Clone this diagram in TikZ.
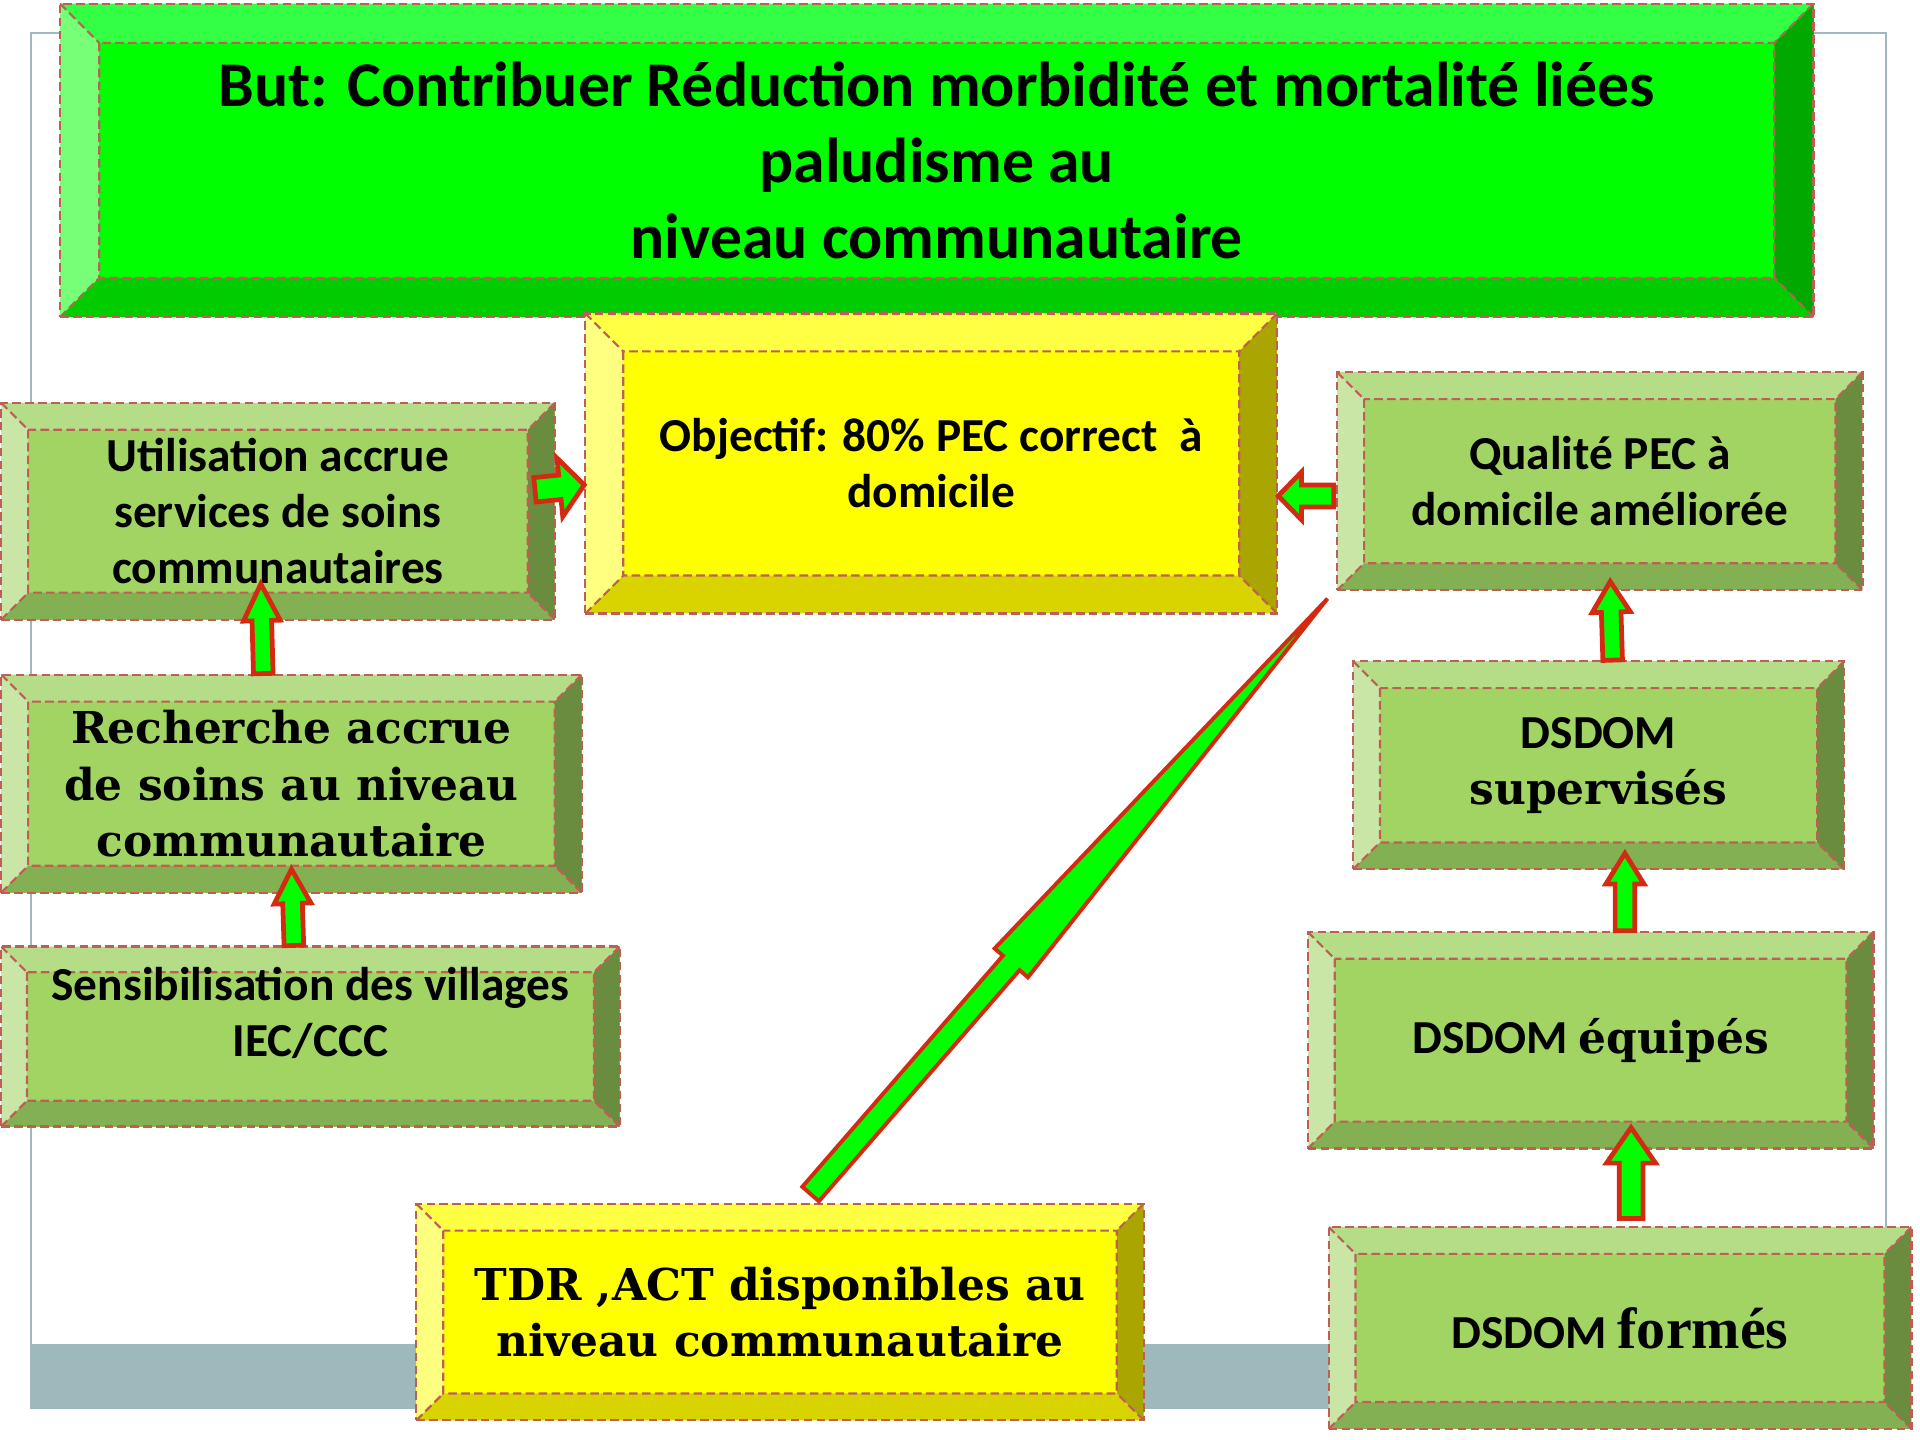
\documentclass[tikz,border=0pt]{standalone}
\usepackage{fontspec}
\setmainfont{Carlito}
\newfontfamily\bookfont{DejaVu Serif}
\newfontfamily\timesfont{Liberation Serif}
\usetikzlibrary{calc}
\definecolor{dashred}{HTML}{BE5F55}
\definecolor{arrowred}{HTML}{D42A12}
\definecolor{framegray}{HTML}{9DB9BC}
\definecolor{arrowgreen}{HTML}{00FF00}
\definecolor{gtop}{HTML}{33FF44}
\definecolor{gleft}{HTML}{77FF77}
\definecolor{gface}{HTML}{00FF00}
\definecolor{gright}{HTML}{00A800}
\definecolor{gbot}{HTML}{00CC00}
\definecolor{ytop}{HTML}{FFFF44}
\definecolor{yleft}{HTML}{FFFF80}
\definecolor{yface}{HTML}{FFFF00}
\definecolor{yright}{HTML}{AAA500}
\definecolor{ybot}{HTML}{D9D400}
\definecolor{otop}{HTML}{B5DD88}
\definecolor{oleft}{HTML}{C9E6A7}
\definecolor{oface}{HTML}{A2D463}
\definecolor{oright}{HTML}{6A8C3E}
\definecolor{obot}{HTML}{84B054}
\newcommand\bk{\bookfont\fontsize{10.2}{13.2}\selectfont}
\newcommand\blockarrow[6][]{%
  \draw[blockarrow,#1] let \p1=#2, \p2=#3,
      \n1={atan2(\y2-\y1,\x2-\x1)}, \n2={veclen(\x2-\x1,\y2-\y1)} in
    ($(\p1)+(\n1+90:#4)$) -- ($(\p1)+(\n1:\n2-#6)+(\n1+90:#4)$)
    -- ($(\p1)+(\n1:\n2-#6)+(\n1+90:#5)$) -- (\p2)
    -- ($(\p1)+(\n1:\n2-#6)+(\n1-90:#5)$) -- ($(\p1)+(\n1:\n2-#6)+(\n1-90:#4)$)
    -- ($(\p1)+(\n1-90:#4)$) -- cycle;}
\tikzset{
  bevelwidth/.store in=\bvw, bevelwidth=0.22cm,
  bevelbox/.style n args={5}{rectangle, inner sep=0pt, align=center,
    draw=dashred, line width=0.5pt, dash pattern=on 2pt off 1pt, fill=#3,
    path picture={
      \path (path picture bounding box.north west) coordinate (bnw)
        (path picture bounding box.north east) coordinate (bne)
        (path picture bounding box.south east) coordinate (bse)
        (path picture bounding box.south west) coordinate (bsw);
      \path ($(bnw)+(\bvw,-\bvw)$) coordinate (inw) ($(bne)+(-\bvw,-\bvw)$) coordinate (ine)
        ($(bse)+(-\bvw,\bvw)$) coordinate (ise) ($(bsw)+(\bvw,\bvw)$) coordinate (isw);
      \fill[#1] (bnw) -- (bne) -- (ine) -- (inw) -- cycle;
      \fill[#2] (bnw) -- (inw) -- (isw) -- (bsw) -- cycle;
      \fill[#4] (bne) -- (ine) -- (ise) -- (bse) -- cycle;
      \fill[#5] (bsw) -- (isw) -- (ise) -- (bse) -- cycle;
      \draw[dashred, line width=0.5pt, dash pattern=on 2pt off 1pt]
        (inw) rectangle (ise) (bnw) -- (inw) (bne) -- (ine) (bse) -- (ise) (bsw) -- (isw);
    }},
  goalbox/.style={bevelbox={gtop}{gleft}{gface}{gright}{gbot},
    bevelwidth=0.32cm, font=\fontsize{14.8}{17.6}\selectfont\bfseries},
  yellowbox/.style={bevelbox={ytop}{yleft}{yface}{yright}{ybot},
    font=\fontsize{11}{13}\selectfont\bfseries},
  olivebox/.style={bevelbox={otop}{oleft}{oface}{oright}{obot},
    font=\fontsize{11}{13}\selectfont\bfseries},
  blockarrow/.style={draw=arrowred, fill=arrowgreen, line width=1.1pt, solid}
}
\begin{document}
\begin{tikzpicture}
\useasboundingbox (0,0) rectangle (15.68,-11.76);
\fill[framegray] (0.255,-10.98) rectangle (15.40,-11.50);
\draw[framegray, line width=0.45pt] (0.255,-0.27) rectangle (15.40,-11.50);

\node[goalbox, minimum width=14.32cm, minimum height=2.56cm] (goal) at (7.65,-1.31)
  {But: Contribuer Réduction morbidité et mortalité liées\\paludisme au\\niveau communautaire};
\node[yellowbox, bevelwidth=0.31cm, minimum width=5.65cm, minimum height=2.45cm] (obj) at (7.605,-3.785)
  {Objectif: 80\% PEC correct\ \ à\\domicile};
\node[olivebox, minimum width=4.52cm, minimum height=1.77cm] (util) at (2.27,-4.175)
  {Utilisation accrue\\services de soins\\communautaires};
\node[olivebox, minimum width=4.74cm, minimum height=1.78cm, font=\bk\bfseries] (rech) at (2.38,-6.40)
  {Recherche accrue\\de soins au niveau\\communautaire};
\node[olivebox, bevelwidth=0.21cm, minimum width=5.05cm, minimum height=1.47cm] (sens) at (2.535,-8.465)
  {Sensibilisation des villages\\IEC/CCC\\[-5.3pt]\strut};
\node[olivebox, minimum width=4.29cm, minimum height=1.78cm] (qual) at (13.065,-3.93)
  {Qualité PEC à\\domicile améliorée};
\node[olivebox, minimum width=4.01cm, minimum height=1.70cm] (sup) at (13.055,-6.25)
  {DSDOM\\{\bk supervisés}};
\node[olivebox, minimum width=4.62cm, minimum height=1.77cm] (equ) at (12.99,-8.495)
  {DSDOM {\bk équipés}};
\node[olivebox, minimum width=4.76cm, minimum height=1.65cm] (form) at (13.23,-10.845)
  {DSDOM {\timesfont\fontsize{13.5}{15}\selectfont formés}};
\node[yellowbox, minimum width=5.94cm, minimum height=1.77cm, font=\bk\bfseries] (tdr) at (6.37,-10.715)
  {TDR ,ACT disponibles au\\niveau communautaire};

\blockarrow{($(rech.north)+(-0.23,0)$)}{($(util.south)+(-0.14,0.30)$)}{0.08cm}{0.15cm}{0.30cm}
\blockarrow{($(sens.north)+(-0.135,0)$)}{($(rech.south)+(0,0.20)$)}{0.08cm}{0.15cm}{0.28cm}
\blockarrow{($(util.east)+(-0.17,0.175)$)}{($(obj.west)+(0,-0.175)$)}{0.10cm}{0.24cm}{0.20cm}
\blockarrow{($(qual.west)+(-0.02,-0.12)$)}{($(obj.east)+(0,-0.265)$)}{0.09cm}{0.195cm}{0.19cm}
\blockarrow{($(sup.north)+(0.115,0)$)}{($(qual.south)+(0.085,0.08)$)}{0.08cm}{0.155cm}{0.25cm}
\blockarrow{($(equ.north)+(0.28,0)$)}{($(sup.south)+(0.215,0.14)$)}{0.08cm}{0.155cm}{0.25cm}
\blockarrow{($(form.north)+(0.09,0.06)$)}{($(equ.south)+(0.33,0.18)$)}{0.097cm}{0.20cm}{0.29cm}
\blockarrow[line width=0.9pt]{($(tdr.north)+(0.25,0.07)$)}{($(qual.south west)+(-0.07,-0.06)$)}{0.09cm}{0.18cm}{3.94cm}
\end{tikzpicture}
\end{document}
